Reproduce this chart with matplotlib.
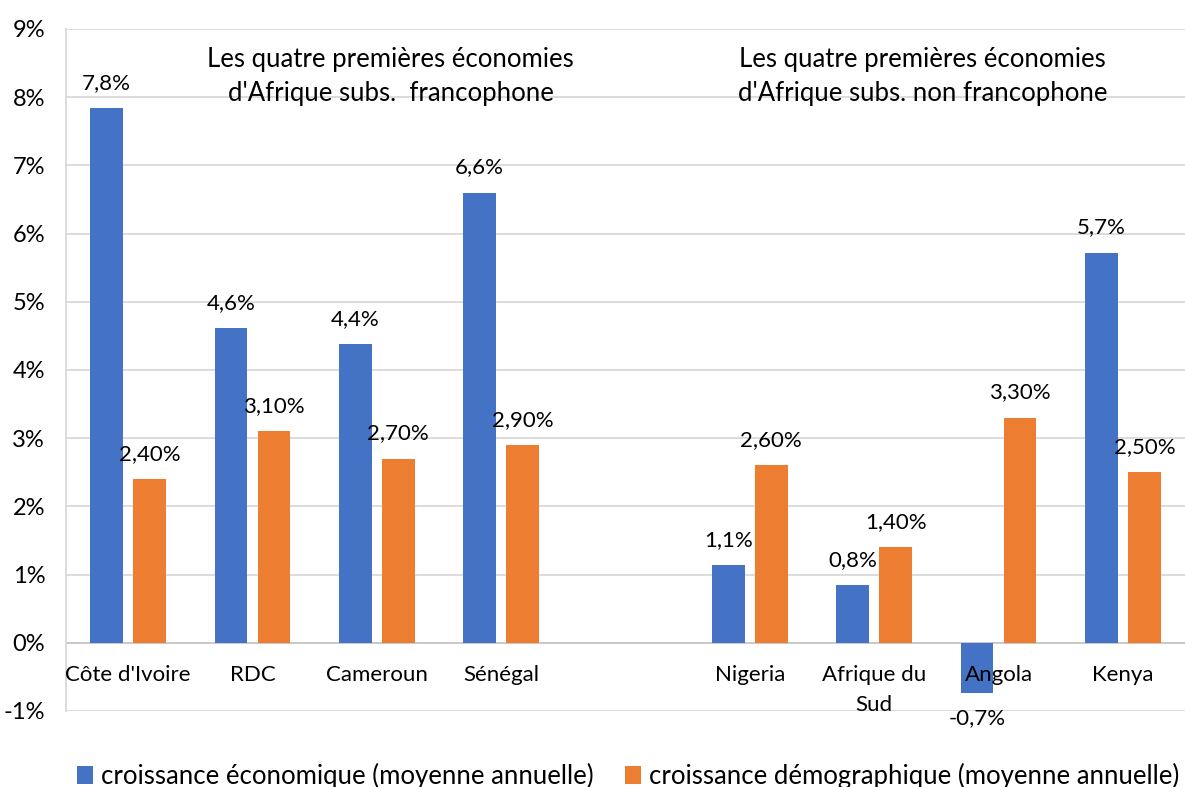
import numpy as np
import matplotlib.pyplot as plt
from matplotlib.patches import Rectangle

plt.rcParams['font.family'] = ['Lato', 'DejaVu Sans']

# data
pays = ["Côte d'Ivoire", "RDC", "Cameroun", "Sénégal", "",
        "Nigeria", "Afrique du\nSud", "Angola", "Kenya"]
croissance_eco = [7.84, 4.61, 4.38, 6.60, np.nan, 1.14, 0.84, -0.74, 5.72]
croissance_demo = [2.40, 3.10, 2.70, 2.90, np.nan, 2.60, 1.40, 3.30, 2.50]
titres = ["Les quatre premières économies\nd'Afrique subs.  francophone",
          "Les quatre premières économies\nd'Afrique subs. non francophone"]
noms_series = ["croissance économique (moyenne annuelle)",
               "croissance démographique (moyenne annuelle)"]

bleu = "#4472C4"
orange = "#ED7D31"
gris = "#D9D9D9"
fs = 16

fig = plt.figure(figsize=(11.85, 7.87), dpi=100)
ax = fig.add_axes([0.0557, 0.0966, 0.9443, 0.8666])

x = np.arange(len(pays))
w = 0.265
off = 0.173
b1 = ax.bar(x - off, croissance_eco, w, color=bleu, zorder=3, label=noms_series[0])
b2 = ax.bar(x + off, croissance_demo, w, color=orange, zorder=3, label=noms_series[1])

# data labels
for xi, v in zip(x, croissance_eco):
    if np.isnan(v):
        continue
    txt = f"{v:.1f}%".replace(".", ",")
    if v >= 0:
        ax.annotate(txt, (xi - off, v), xytext=(0, 11), textcoords="offset points",
                    ha="center", va="bottom", fontsize=fs, zorder=5)
    else:
        ax.annotate(txt, (xi - off, v), xytext=(0, -11), textcoords="offset points",
                    ha="center", va="top", fontsize=fs, zorder=5)
for xi, v in zip(x, croissance_demo):
    if np.isnan(v):
        continue
    txt = f"{v:.2f}%".replace(".", ",")
    ax.annotate(txt, (xi + off, v), xytext=(0, 11), textcoords="offset points",
                ha="center", va="bottom", fontsize=fs, zorder=5)

# category labels next to the zero line
for xi, lab in zip(x, pays):
    ax.annotate(lab, (xi, 0), xytext=(0, -16), textcoords="offset points",
                ha="center", va="top", fontsize=fs, zorder=6, linespacing=1.6)

ax.set_xlim(-0.5, len(pays) - 0.5)
ax.set_ylim(-1, 9)
ax.set_yticks(np.arange(-1, 10, 1))
ax.set_yticklabels([f"{t}%" for t in range(-1, 10)], fontsize=17)
ax.set_xticks([])
ax.tick_params(axis="y", length=0, pad=15)
ax.grid(axis="y", color=gris, linewidth=1.3, zorder=0)
ax.axhline(0, color="#C8C8C8", linewidth=1.3, zorder=2)
for s in ["top", "right", "bottom"]:
    ax.spines[s].set_visible(False)
ax.spines["left"].set_color(gris)
ax.spines["left"].set_linewidth(1.3)

# title boxes hiding the 8% gridline
for (x0, x1, xc), t in zip([(0.30, 3.92, 2.11), (5.10, 8.47, 6.39)], titres):
    ax.add_patch(Rectangle((x0, 7.6), x1 - x0, 1.1, facecolor="white",
                           edgecolor="none", zorder=1))
    ax.text(xc, 8.31, t, ha="center", va="center", fontsize=18.5,
            linespacing=1.45, zorder=4)

fig.legend(handles=[b1, b2], labels=noms_series, loc="lower center",
           bbox_to_anchor=(0.53, -0.032), ncol=2, frameon=False, fontsize=18.5,
           handlelength=0.65, handleheight=0.65, handletextpad=0.3, columnspacing=1.2)

fig.savefig("out.png", dpi=100)
